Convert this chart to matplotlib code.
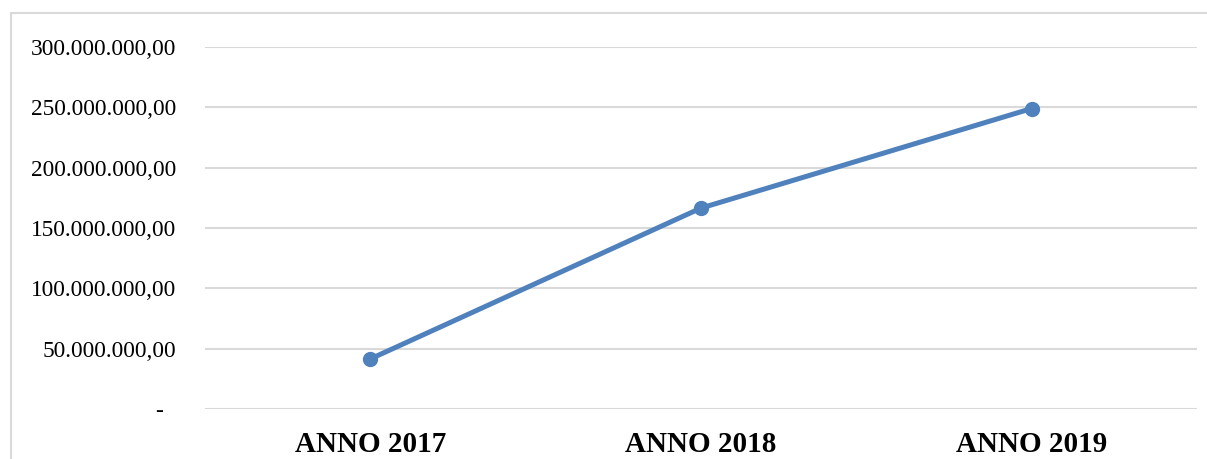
import matplotlib.pyplot as plt
from matplotlib.patches import Rectangle

# dati
anni = ["ANNO 2017", "ANNO 2018", "ANNO 2019"]
valori = [41500000, 166500000, 249000000]
y_ticks = [0, 50000000, 100000000, 150000000, 200000000, 250000000, 300000000]
y_labels = ["-  ", "50.000.000,00", "100.000.000,00", "150.000.000,00",
            "200.000.000,00", "250.000.000,00", "300.000.000,00"]

plt.rcParams["font.family"] = ["Liberation Serif", "DejaVu Serif"]

fig = plt.figure(figsize=(12.07, 4.59), dpi=100)
ax = fig.add_axes([205 / 1207, 50 / 459, 992 / 1207, 362 / 459])

x = range(len(anni))
ax.plot(x, valori, color="#4F81BD", linewidth=3.6, marker="o", markersize=10,
        solid_capstyle="round", zorder=3)

ax.set_xlim(-0.5, len(anni) - 0.5)
ax.set_ylim(0, 300000000)
ax.set_yticks(y_ticks)
ax.set_yticklabels(y_labels, fontsize=16.8, color="#000000")
ax.set_xticks(list(x))
ax.set_xticklabels(anni, fontsize=21, fontweight="bold")

ax.grid(axis="y", color="#D9D9D9", linewidth=1.5)
ax.set_axisbelow(True)
ax.tick_params(axis="y", length=0, pad=21)
ax.tick_params(axis="x", length=0, pad=16)
for s in ax.spines.values():
    s.set_visible(False)

# cornice grigia del grafico (tagliata a destra e in basso)
fig.patches.append(Rectangle((11 / 1207, -0.1), 1.2, (459 - 13) / 459 + 0.1,
                             transform=fig.transFigure, fill=False,
                             edgecolor="#D9D9D9", linewidth=1.5))

fig.savefig("out.png", dpi=100)
